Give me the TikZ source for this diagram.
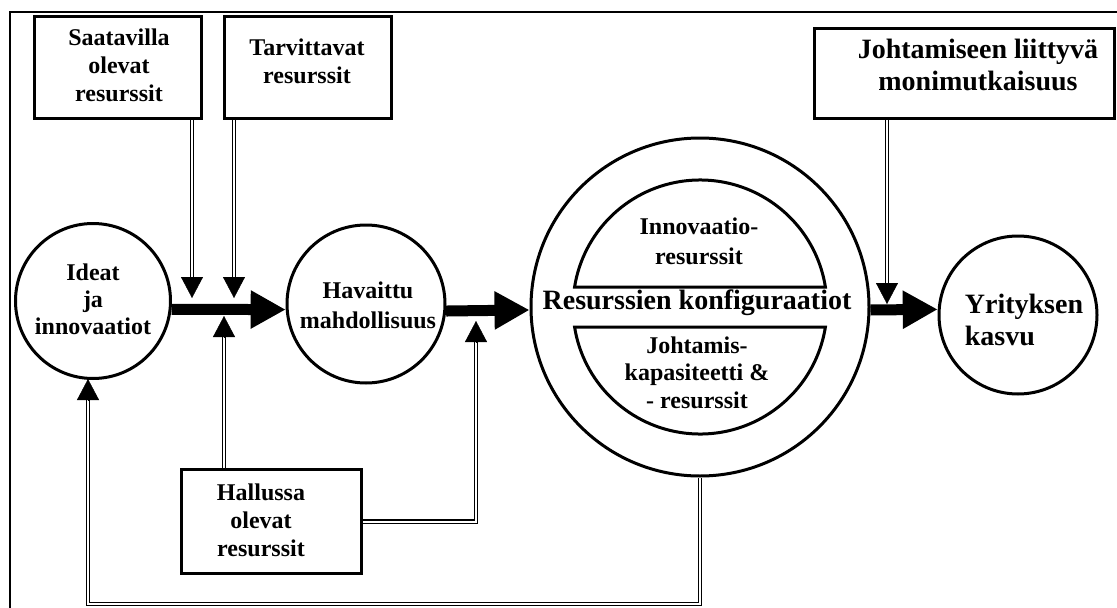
\documentclass[tikz,border=0pt]{standalone}
\usepackage{fontspec}
\setmainfont{Liberation Serif}
\usetikzlibrary{arrows.meta}
\begin{document}
\begin{tikzpicture}[x=1pt,y=-1pt,
  frame/.style={line width=2pt},
  stepbox/.style={draw, rectangle, line width=3pt, inner sep=0pt},
  bubble/.style={draw, circle, line width=3pt, inner sep=0pt},
  small/.style={font=\bfseries\fontsize{24}{28}\selectfont, align=center, inner sep=0pt},
  large/.style={font=\bfseries\fontsize{28}{32}\selectfont, align=center, inner sep=0pt},
  flow/.style={line width=11pt, -{Triangle[length=35pt,width=36pt]}},
  feed/.style={double, double distance=2pt, line width=1.2pt},
  feedhead/.style={line width=0.4pt, -{Triangle[length=21pt,width=22pt]}},
  segline/.style={line width=3pt, line join=miter},
]
\useasboundingbox (0,0) rectangle (1117,608);
\fill[white] (0,0) rectangle (1117,608);

% surrounding frame (left and top edges)
\draw[frame] (10,630) -- (10,12) -- (1140,12);

% resource boxes
\node[stepbox, minimum width=167pt, minimum height=102pt] (saat) at (118,67.5) {};
\node[small] (saatT) at (119,65.5) {Saatavilla\\olevat\\resurssit};
\node[stepbox, minimum width=167pt, minimum height=102pt] (tarv) at (308,67.5) {};
\node[small] (tarvT) at (307,61.5) {Tarvittavat\\resurssit};
\node[stepbox, minimum width=300pt, minimum height=90pt] (johb) at (964.5,73.5) {};
\node[large] (johbT) at (978,65) {Johtamiseen liittyvä\\monimutkaisuus};
\node[stepbox, minimum width=180pt, minimum height=104pt] (hall) at (271.5,521.5) {};
\node[small] (hallT) at (261,520) {Hallussa\\olevat\\resurssit};

% process circles
\node[bubble, minimum size=155pt] (ideat) at (93,301) {};
\node[small, font=\bfseries\fontsize{24}{27}\selectfont] (ideatT) at (93,299) {Ideat\\ja\\innovaatiot};
\node[bubble, minimum size=158pt] (hav) at (366,304) {};
\node[small, font=\bfseries\fontsize{24}{30}\selectfont] (havT) at (368,305.5) {Havaittu\\mahdollisuus};
\node[bubble, minimum size=338pt] (conf) at (700,307) {};
\node[bubble, minimum size=158pt] (kasvu) at (1018,315) {};
\node[large, align=left] (kasvuT) at (1024,319.5) {Yrityksen\\kasvu};

% inner segments of the configuration circle
\draw[segline] (825.4,287) arc[start angle=-9.06, end angle=-170.94, radius=127] -- cycle;
\draw[segline] (825.4,327) arc[start angle=9.06, end angle=170.94, radius=127] -- cycle;
\node[large] (confT) at (697,303) {Resurssien konfiguraatiot};
\node[small, font=\bfseries\fontsize{24}{30}\selectfont] (innoT) at (699,241.5) {Innovaatio-\\resurssit};
\node[small, font=\bfseries\fontsize{24}{27.5}\selectfont] (johtT) at (697,372.5) {Johtamis-\\kapasiteetti \&\\- resurssit};

% main flow
\draw[flow] (ideat.-6.6) -- (hav.184.3);
\draw[flow] (hav.-5) -- (conf.181.35);
\draw[flow] (conf.-1) -- (kasvu.176.4);

% influence lines
\coordinate (d1) at (192,298); \coordinate (d1b) at (192,277);
\coordinate (d2) at (234,298); \coordinate (d2b) at (234,277);
\coordinate (u1) at (224,316); \coordinate (u1b) at (224,337);
\coordinate (u2) at (476,321); \coordinate (u2b) at (476,342);
\coordinate (d3) at (887,304); \coordinate (d3b) at (887,283);
\coordinate (u3) at (88,379);  \coordinate (u3b) at (88,400);
\coordinate (lp) at (88,604);

\draw[feed] (saat.south -| d1b) -- (d1b);
\draw[feedhead] (d1b) -- (d1);
\draw[feed] (tarv.south -| d2b) -- (d2b);
\draw[feedhead] (d2b) -- (d2);
\draw[feed] (hall.north -| u1b) -- (u1b);
\draw[feedhead] (u1b) -- (u1);
\draw[feed] (hall.east) -- (hall.east -| u2b) -- (u2b);
\draw[feedhead] (u2b) -- (u2);
\draw[feed] (johb.south -| d3b) -- (d3b);
\draw[feedhead] (d3b) -- (d3);
\draw[feed] (conf.south) -- (conf.south |- lp) -- (lp) -- (u3b);
\draw[feedhead] (u3b) -- (u3);
\end{tikzpicture}
\end{document}
